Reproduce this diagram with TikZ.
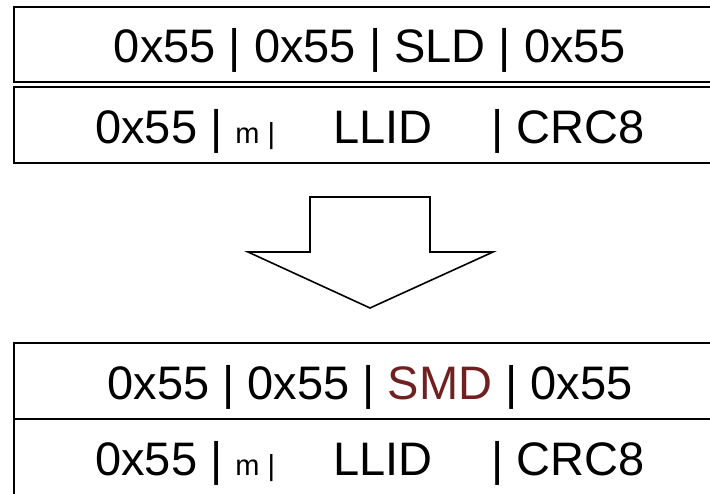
\documentclass[tikz,border=0pt]{standalone}
\usepackage{fontspec}
\setmainfont{Liberation Sans}
\usepackage{tikz}
\usetikzlibrary{positioning}
\definecolor{smdred}{RGB}{112,32,32}
\newcommand{\bigtxt}{\fontsize{47}{50}\selectfont}
\newcommand{\smalltxt}{\fontsize{29}{30}\selectfont}
\tikzstyle{row} = [rectangle, draw=black, line width=1.6pt, minimum width=712pt, minimum height=76pt, inner sep=0pt, text height=37pt, text depth=0pt, text centered, font=\bigtxt]
\tikzstyle{blockarrow} = [draw=black, line width=1.6pt, fill=white, line join=miter]

\begin{document}
\begin{tikzpicture}[x=1pt, y=1pt]
        \useasboundingbox (0,0) rectangle (710,493);
        % before
        \node (sld) [row, minimum height=75pt] at (370,448.5) {0x55 | 0x55 | SLD | 0x55};
        \node (llida) [row] at (370,368) {0x55 | {\smalltxt m |}\hspace{58pt}LLID\hspace{59pt}| CRC8};
        % after
        \node (smd) [row] at (370,112) {0x55 | 0x55 | \textcolor{smdred}{SMD} | 0x55};
        \node (llidb) [row] at (370,36) {0x55 | {\smalltxt m |}\hspace{58pt}LLID\hspace{59pt}| CRC8};

        \draw [blockarrow] (310,296) -- (430,296) -- (430,241) -- (493,241) -- (370,185) -- (248,241) -- (310,241) -- cycle;
    \end{tikzpicture}
\end{document}
